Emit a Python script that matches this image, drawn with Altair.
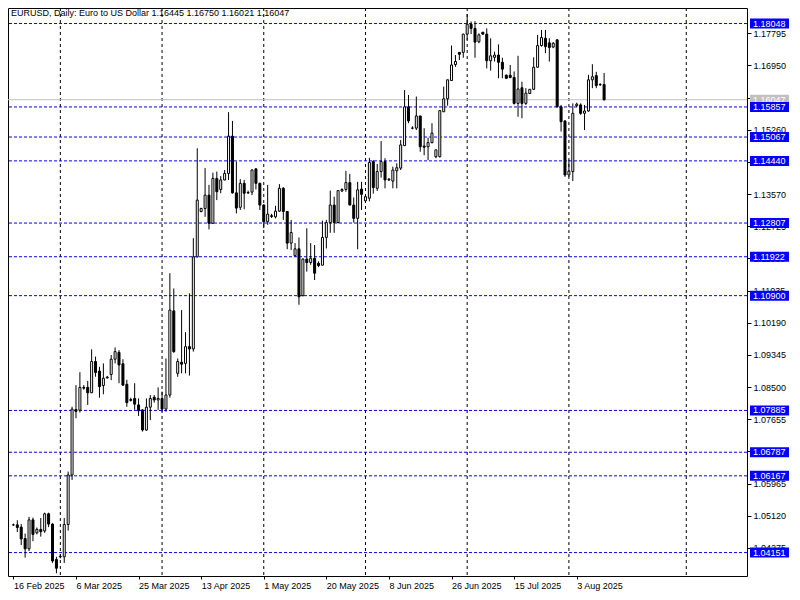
import altair as alt
import pandas as pd

# ---- data ----
opens = [
    1.0488, 1.0488, 1.0482, 1.0452, 1.0425, 1.0501, 1.0467, 1.0476, 1.0472, 1.0517,
    1.0490, 1.0397, 1.0405, 1.0404, 1.0489, 1.0619, 1.0791, 1.0789, 1.0849, 1.0849,
    1.0835, 1.0917, 1.0892, 1.0854, 1.0874, 1.0883, 1.0923, 1.0941, 1.0911, 1.0857,
    1.0817, 1.0820, 1.0803, 1.0790, 1.0737, 1.0797, 1.0823, 1.0816, 1.0820, 1.0792,
    1.0829, 1.1050, 1.0886, 1.0915, 1.0912, 1.0956, 1.0950, 1.1192, 1.1311, 1.1319,
    1.1354, 1.1280, 1.1398, 1.1369, 1.1394, 1.1411, 1.1509, 1.1360, 1.1322, 1.1385,
    1.1360, 1.1362, 1.1423, 1.1385, 1.1328, 1.1284, 1.1300, 1.1297, 1.1312, 1.1372,
    1.1311, 1.1228, 1.1195, 1.1213, 1.1090, 1.1186, 1.1177, 1.1188, 1.1175, 1.1170,
    1.1243, 1.1282, 1.1328, 1.1282, 1.1365, 1.1369, 1.1387, 1.1328, 1.1293, 1.1370,
    1.1339, 1.1346, 1.1442, 1.1372, 1.1416, 1.1442, 1.1394, 1.1391, 1.1418, 1.1425,
    1.1484, 1.1586, 1.1530, 1.1530, 1.1562, 1.1483, 1.1481, 1.1492, 1.1455, 1.1455,
    1.1573, 1.1607, 1.1655, 1.1697, 1.1729, 1.1729, 1.1777, 1.1803, 1.1792, 1.1757,
    1.1782, 1.1777, 1.1707, 1.1716, 1.1722, 1.1703, 1.1669, 1.1669, 1.1663, 1.1595,
    1.1636, 1.1595, 1.1621, 1.1632, 1.1690, 1.1747, 1.1766, 1.1754, 1.1743, 1.1762,
    1.1586, 1.1549, 1.1407, 1.1416, 1.1589, 1.1591, 1.1569, 1.1575, 1.1657, 1.1668,
    1.1644, 1.16445,
]
highs = [
    1.0491, 1.0500, 1.0490, 1.0465, 1.0509, 1.0507, 1.0481, 1.0506, 1.0520, 1.0520,
    1.0492, 1.0404, 1.0411, 1.0506, 1.0628, 1.0798, 1.0855, 1.0889, 1.0855, 1.0866,
    1.0949, 1.0930, 1.0903, 1.0912, 1.0879, 1.0934, 1.0954, 1.0947, 1.0923, 1.0869,
    1.0822, 1.0860, 1.0820, 1.0791, 1.0820, 1.0829, 1.0829, 1.0849, 1.0838, 1.0925,
    1.1149, 1.1109, 1.0925, 1.1052, 1.0994, 1.1096, 1.1241, 1.1477, 1.1321, 1.1425,
    1.1381, 1.1413, 1.1416, 1.1404, 1.1420, 1.1572, 1.1549, 1.1442, 1.1396, 1.1394,
    1.1366, 1.1422, 1.1425, 1.1387, 1.1330, 1.1381, 1.1305, 1.1326, 1.1383, 1.1375,
    1.1312, 1.1289, 1.1228, 1.1243, 1.1188, 1.1267, 1.1228, 1.1223, 1.1180, 1.1287,
    1.1289, 1.1366, 1.1350, 1.1366, 1.1372, 1.1418, 1.1410, 1.1348, 1.1389, 1.1389,
    1.1352, 1.1452, 1.1446, 1.1436, 1.1496, 1.1451, 1.1399, 1.1429, 1.1438, 1.1499,
    1.1630, 1.1617, 1.1535, 1.1613, 1.1562, 1.1530, 1.1505, 1.1543, 1.1473, 1.1577,
    1.1639, 1.1657, 1.1747, 1.1722, 1.1729, 1.1778, 1.1830, 1.1810, 1.1811, 1.1779,
    1.1782, 1.1792, 1.1766, 1.1731, 1.1750, 1.1715, 1.1671, 1.1696, 1.1679, 1.1720,
    1.1652, 1.1635, 1.1633, 1.1716, 1.1775, 1.1788, 1.1788, 1.1766, 1.1756, 1.1763,
    1.1591, 1.1550, 1.1446, 1.1595, 1.1597, 1.1595, 1.1591, 1.1670, 1.1698, 1.1678,
    1.1648, 1.16750,
]
lows = [
    1.0485, 1.0469, 1.0435, 1.0402, 1.0419, 1.0445, 1.0463, 1.0457, 1.0467, 1.0482,
    1.0388, 1.0361, 1.0400, 1.0388, 1.0473, 1.0606, 1.0768, 1.0783, 1.0843, 1.0803,
    1.0834, 1.0877, 1.0822, 1.0831, 1.0872, 1.0868, 1.0912, 1.0860, 1.0853, 1.0798,
    1.0812, 1.0790, 1.0774, 1.0733, 1.0735, 1.0763, 1.0809, 1.0790, 1.0785, 1.0785,
    1.0822, 1.0940, 1.0877, 1.0886, 1.0886, 1.0880, 1.0943, 1.1190, 1.1309, 1.1297,
    1.1264, 1.1279, 1.1341, 1.1359, 1.1393, 1.1394, 1.1358, 1.1306, 1.1315, 1.1317,
    1.1357, 1.1354, 1.1369, 1.1315, 1.1267, 1.1276, 1.1294, 1.1293, 1.1310, 1.1289,
    1.1212, 1.1210, 1.1192, 1.1066, 1.1088, 1.1153, 1.1171, 1.1131, 1.1165, 1.1170,
    1.1214, 1.1255, 1.1255, 1.1280, 1.1362, 1.1363, 1.1328, 1.1282, 1.1212, 1.1315,
    1.1337, 1.1338, 1.1358, 1.1365, 1.1400, 1.1372, 1.1391, 1.1372, 1.1372, 1.1420,
    1.1483, 1.1543, 1.1527, 1.1525, 1.1468, 1.1459, 1.1446, 1.1490, 1.1451, 1.1453,
    1.1573, 1.1589, 1.1654, 1.1691, 1.1709, 1.1715, 1.1762, 1.1777, 1.1715, 1.1753,
    1.1775, 1.1687, 1.1681, 1.1705, 1.1661, 1.1661, 1.1659, 1.1661, 1.1592, 1.1560,
    1.1556, 1.1591, 1.1620, 1.1630, 1.1689, 1.1744, 1.1727, 1.1705, 1.1740, 1.1584,
    1.1521, 1.1402, 1.1402, 1.1391, 1.1585, 1.1565, 1.1525, 1.1573, 1.1635, 1.1635,
    1.1641, 1.16021,
]
closes = [
    1.0488, 1.0481, 1.0451, 1.0425, 1.0501, 1.0463, 1.0476, 1.0470, 1.0517, 1.0490,
    1.0393, 1.0374, 1.0404, 1.0489, 1.0619, 1.0792, 1.0786, 1.0849, 1.0847, 1.0835,
    1.0917, 1.0888, 1.0851, 1.0873, 1.0876, 1.0923, 1.0943, 1.0908, 1.0855, 1.0809,
    1.0815, 1.0805, 1.0788, 1.0737, 1.0797, 1.0820, 1.0816, 1.0820, 1.0792, 1.0829,
    1.1052, 1.0943, 1.0917, 1.0910, 1.0956, 1.0950, 1.1192, 1.1341, 1.1319, 1.1354,
    1.1280, 1.1398, 1.1363, 1.1394, 1.1411, 1.1509, 1.1360, 1.1320, 1.1385, 1.1359,
    1.1361, 1.1420, 1.1385, 1.1328, 1.1284, 1.1304, 1.1298, 1.1312, 1.1372, 1.1311,
    1.1228, 1.1256, 1.1213, 1.1087, 1.1186, 1.1177, 1.1188, 1.1149, 1.1169, 1.1243,
    1.1282, 1.1328, 1.1282, 1.1366, 1.1369, 1.1387, 1.1328, 1.1293, 1.1368, 1.1356,
    1.1350, 1.1440, 1.1374, 1.1416, 1.1442, 1.1394, 1.1396, 1.1420, 1.1426, 1.1486,
    1.1586, 1.1549, 1.1530, 1.1562, 1.1481, 1.1480, 1.1492, 1.1517, 1.1473, 1.1576,
    1.1607, 1.1657, 1.1696, 1.1705, 1.1724, 1.1777, 1.1803, 1.1792, 1.1756, 1.1775,
    1.1777, 1.1707, 1.1720, 1.1722, 1.1703, 1.1685, 1.1661, 1.1663, 1.1595, 1.1633,
    1.1595, 1.1622, 1.1632, 1.1690, 1.1747, 1.1768, 1.1744, 1.1742, 1.1753, 1.1586,
    1.1547, 1.1407, 1.1417, 1.1569, 1.1593, 1.1569, 1.1575, 1.1657, 1.1665, 1.1642,
    1.1645, 1.16047,
]

x_tick_bars = [0, 16, 32, 48, 64, 80, 96, 112, 128, 144]
x_tick_labels = ["16 Feb 2025", "6 Mar 2025", "25 Mar 2025", "13 Apr 2025", "1 May 2025",
                 "20 May 2025", "8 Jun 2025", "26 Jun 2025", "15 Jul 2025", "3 Aug 2025"]
month_start_bars = [12, 38, 64, 90, 116, 142, 172]
y_ticks = [1.04275, 1.05120, 1.05965, 1.06810, 1.07655, 1.08500, 1.09345, 1.10190, 1.11035,
           1.11880, 1.12725, 1.13570, 1.14415, 1.15260, 1.16105, 1.16950, 1.17795]
level_prices = [1.18048, 1.15857, 1.15067, 1.14440, 1.12807, 1.11922, 1.10900,
                1.07885, 1.06787, 1.06167, 1.04151]
bid_price = [1.16047]
header = "EURUSD, Daily:  Euro to US Dollar  1.16445 1.16750 1.16021 1.16047"

# ---- tables ----
df = pd.DataFrame({"bar": list(range(len(opens))), "open": opens, "high": highs,
                   "low": lows, "close": closes})
df["dir"] = ["up" if c >= o else "down" for o, c in zip(opens, closes)]
levels = pd.DataFrame({"price": level_prices})
bid = pd.DataFrame({"price": bid_price})
months = pd.DataFrame({"bar": month_start_bars})

FONT = "Liberation Sans"
W, H = 739, 568
PAD_R, PAD_B = 45, 16

xscale = alt.Scale(domain=[-0.1, 186.25], nice=False, zero=False)
yscale = alt.Scale(domain=[1.03536, 1.18456], nice=False, zero=False)
label_expr = "[" + ",".join("'%s'" % s for s in x_tick_labels) + "][round(datum.value/16)]"
xaxis = alt.Axis(values=x_tick_bars, labelExpr=label_expr, title=None, grid=False,
                 domain=False, tickColor="black", tickSize=3, labelAlign="left",
                 labelBaseline="top", labelPadding=2, labelFont=FONT, labelFontSize=9,
                 labelColor="black", labelOverlap=False, labelFlush=False)
yaxis = alt.Axis(values=y_ticks, format=".5f", orient="right", title=None, grid=False,
                 domain=False, tickColor="black", tickSize=4, labelAlign="left",
                 labelBaseline="middle", labelPadding=2, labelFont=FONT, labelFontSize=9,
                 labelColor="black", labelOverlap=False, labelFlush=False)


def X(f):
    return alt.X(f, type="quantitative", scale=xscale, axis=xaxis)


def Y(f):
    return alt.Y(f, type="quantitative", scale=yscale, axis=yaxis)


vgrid = alt.Chart(months).mark_rule(color="black", strokeWidth=1, strokeDash=[3, 3]).encode(
    x=X("bar"))
hlines = alt.Chart(levels).mark_rule(color="#0000ff", strokeWidth=1, strokeDash=[3, 2]).encode(
    y=Y("price"))
bidline = alt.Chart(bid).mark_rule(color="#c0c0c0", strokeWidth=1).encode(y=Y("price"))

wicks = alt.Chart(df).mark_rule(color="black", strokeWidth=1).encode(
    x=X("bar"), y=Y("low"), y2="high")
bodies = alt.Chart(df).mark_bar(size=2, stroke="black", strokeWidth=1).encode(
    x=X("bar"), y=Y("open"), y2="close",
    fill=alt.Fill("dir:N", scale=alt.Scale(domain=["up", "down"], range=["white", "black"]),
                  legend=None))

boxes = alt.Chart(levels).mark_rect(color="#0000ff", yOffset=-5, y2Offset=5).encode(
    y=Y("price"), y2="price", x=alt.value(W + 3), x2=alt.value(W + 42))
box_text = alt.Chart(levels).mark_text(align="left", baseline="middle", color="white",
                                       font=FONT, fontSize=9).encode(
    y=Y("price"), x=alt.value(W + 6), text=alt.Text("price:Q", format=".5f"))
bid_box = alt.Chart(bid).mark_rect(color="#c0c0c0", yOffset=-5, y2Offset=5).encode(
    y=Y("price"), y2="price", x=alt.value(W + 3), x2=alt.value(W + 42))
bid_text = alt.Chart(bid).mark_text(align="left", baseline="middle", color="white",
                                    font=FONT, fontSize=9).encode(
    y=Y("price"), x=alt.value(W + 6), text=alt.Text("price:Q", format=".5f"))

head = alt.Chart(pd.DataFrame({"t": [header]})).mark_text(
    align="left", baseline="top", color="black", font=FONT, fontSize=9).encode(
    x=alt.value(3), y=alt.value(1), text="t:N")

chart = alt.layer(vgrid, hlines, bidline, wicks, bodies, bid_box, bid_text, boxes, box_text,
                  head).properties(
    width=W, height=H,
    autosize=alt.AutoSizeParams(type="none"),
    padding={"left": 0, "top": 0, "right": PAD_R, "bottom": PAD_B},
    background="white",
).configure_view(stroke="black", strokeWidth=1)

chart.save("out.html", embed_options={"renderer": "svg", "actions": False})
